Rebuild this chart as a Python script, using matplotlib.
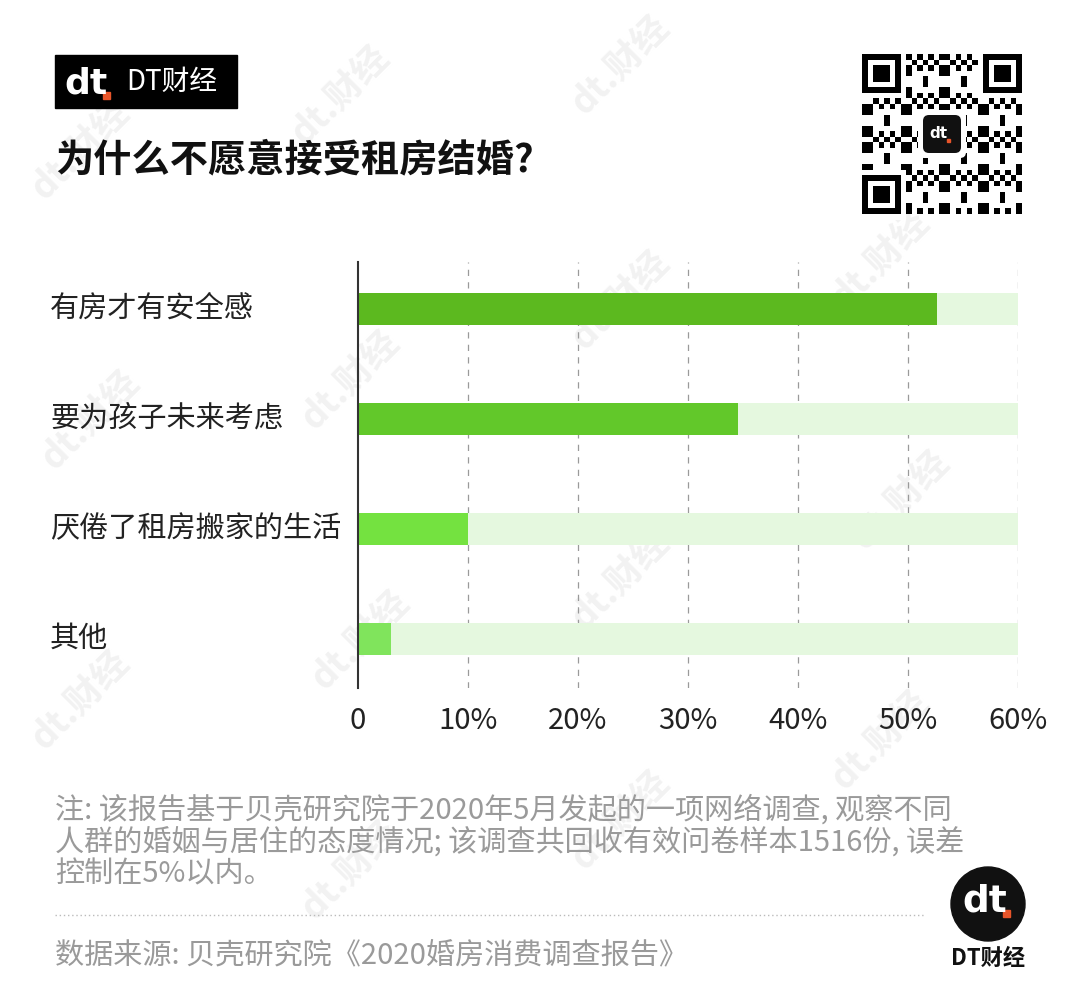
import matplotlib

matplotlib.use("Agg")
import matplotlib.pyplot as plt
from matplotlib.patches import Circle, FancyBboxPatch, Rectangle
from matplotlib.transforms import blended_transform_factory

plt.rcParams["font.family"] = ["Noto Sans CJK SC", "DejaVu Sans"]

# data
categories = ["有房才有安全感", "要为孩子未来考虑", "厌倦了租房搬家的生活", "其他"]
shares = [52.6, 34.5, 10.0, 3.0]
bar_colors = ["#5cb91f", "#62c82a", "#74e240", "#80e45c"]
track_max = 60
ticks = [0, 10, 20, 30, 40, 50, 60]
tick_labels = ["0", "10%", "20%", "30%", "40%", "50%", "60%"]

title = "为什么不愿意接受租房结婚?"
note = ("注: 该报告基于贝壳研究院于2020年5月发起的一项网络调查, 观察不同\n"
        "人群的婚姻与居住的态度情况; 该调查共回收有效问卷样本1516份, 误差\n"
        "控制在5%以内。")
source = "数据来源: 贝壳研究院《2020婚房消费调查报告》"

W, H = 1080, 992
fig = plt.figure(figsize=(W / 100, H / 100), dpi=100)
fig.patch.set_facecolor("white")


def fx(px):
    return px / W


def fy(py):
    return 1 - py / H


# faint watermarks
for wx, wy in [(80, 150), (340, 95), (620, 65), (350, 380), (620, 300),
               (880, 260), (90, 420), (360, 640), (620, 580), (900, 500),
               (80, 700), (350, 870), (620, 820), (880, 740)]:
    fig.text(fx(wx), fy(wy), "dt.财经", fontsize=26, fontweight="bold", color="#f2f2f2",
             rotation=45, ha="center", va="center", zorder=0)

# overlay in pixel coordinates for header / footer decorations
hdr = fig.add_axes([0, 0, 1, 1], zorder=5)
hdr.set_xlim(0, W)
hdr.set_ylim(H, 0)
hdr.axis("off")
hdr.patch.set_alpha(0)
hdr.add_patch(Rectangle((55, 55), 182, 53, color="black"))
hdr.text(64, 83, "dt", color="white", fontsize=26, fontweight="bold",
         va="center", ha="left", family="DejaVu Sans")
hdr.add_patch(Rectangle((103, 92), 7, 7, color="#e8552a"))
hdr.text(126, 82, "DT财经", color="white", fontsize=20, va="center", ha="left")
hdr.text(55, 160, title, color="#111111", fontsize=27.5, fontweight="bold",
         va="center", ha="left")

# QR-like decoration
qx, qy, qs = 862, 54, 160
n = 29
cell = qs / n
for i in range(n):
    for j in range(n):
        if ((i * i * 3 + j * j * 5 + i * j * 7 + i + 2 * j) % 7) < 3:
            hdr.add_patch(Rectangle((qx + j * cell, qy + i * cell), cell, cell,
                                    color="black", lw=0))
for ox, oy in [(0, 0), (n - 7, 0), (0, n - 7)]:
    x0, y0 = qx + ox * cell, qy + oy * cell
    hdr.add_patch(Rectangle((x0 - cell, y0 - cell), 9 * cell, 9 * cell, color="white", lw=0))
    hdr.add_patch(Rectangle((x0, y0), 7 * cell, 7 * cell, color="black", lw=0))
    hdr.add_patch(Rectangle((x0 + cell, y0 + cell), 5 * cell, 5 * cell, color="white", lw=0))
    hdr.add_patch(Rectangle((x0 + 2 * cell, y0 + 2 * cell), 3 * cell, 3 * cell, color="black", lw=0))
hdr.add_patch(FancyBboxPatch((qx + 58, qy + 58), 44, 44, boxstyle="round,pad=2,rounding_size=6",
                             color="white", lw=0))
hdr.add_patch(FancyBboxPatch((qx + 61, qy + 61), 38, 38, boxstyle="round,pad=0,rounding_size=6",
                             color="#111111", lw=0))
hdr.text(qx + 76, qy + 80, "dt", color="white", fontsize=11, fontweight="bold",
         ha="center", va="center", family="DejaVu Sans")
hdr.add_patch(Rectangle((qx + 85, qy + 85), 3, 3, color="#e8552a"))

# main bar chart
ax = fig.add_axes([fx(358), fy(688), fx(1018) - fx(358), (688 - 262) / H], zorder=3)
ax.patch.set_alpha(0)
ypos = list(range(len(categories)))
ax.barh(ypos, [track_max] * len(categories), height=0.29, color="#e5f8df", zorder=1)
ax.barh(ypos, shares, height=0.29, color=bar_colors, zorder=2)
ax.set_xlim(0, track_max)
ax.set_ylim(3.445, -0.427)
ax.set_xticks(ticks)
ax.set_xticklabels(tick_labels, fontsize=21, color="#222222")
ax.tick_params(axis="x", length=0, pad=13)
ax.set_yticks([])
for t in ticks[1:]:
    ax.axvline(t, color="#9a9a9a", lw=0.9, ls=(0, (5, 5)), zorder=0)
for s in ["top", "right", "bottom"]:
    ax.spines[s].set_visible(False)
ax.spines["left"].set_color("#333333")
ax.spines["left"].set_linewidth(1.5)
label_tr = blended_transform_factory(fig.transFigure, ax.transData)
for i, c in enumerate(categories):
    ax.text(fx(50), i, c, transform=label_tr, fontsize=21,
            color="#222222", ha="left", va="center")

# footer
hdr.text(55, 842, note, color="#9a9a9a", fontsize=21, ha="left", va="center",
         linespacing=1.07)
hdr.plot([55, 925], [915, 915], color="#bbbbbb", lw=1, ls=(0, (1, 2)))
hdr.text(55, 955, source, color="#9a9a9a", fontsize=21, ha="left", va="center")
hdr.add_patch(Circle((988, 904), 37, color="#111111"))
hdr.text(985, 902, "dt", color="white", fontsize=27, fontweight="bold",
         ha="center", va="center", family="DejaVu Sans")
hdr.add_patch(Rectangle((1003, 910), 7, 7, color="#e8552a"))
hdr.text(988, 958, "DT财经", color="#111111", fontsize=16, fontweight="bold",
         ha="center", va="center")

fig.savefig("out.png", dpi=100)
